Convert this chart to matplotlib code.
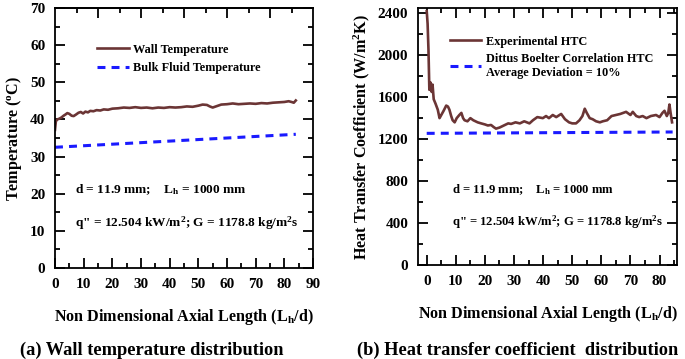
import matplotlib
matplotlib.use("Agg")
import matplotlib.pyplot as plt
from matplotlib.ticker import MultipleLocator, FixedLocator

plt.rcParams['font.family'] = ['Liberation Serif', 'DejaVu Serif']
plt.rcParams['font.weight'] = 'bold'
plt.rcParams['mathtext.fontset'] = 'custom'
plt.rcParams['mathtext.rm'] = 'Liberation Serif:bold'
plt.rcParams['mathtext.bf'] = 'Liberation Serif:bold'
plt.rcParams['mathtext.it'] = 'Liberation Serif:bold:italic'

# (a) wall / bulk temperature
wall_x = [0, 0.3, 0.8, 1.5, 2.2, 3.0, 3.6, 4.3, 5.0, 5.8,
          6.5, 7.3, 8.2, 9.0, 9.8, 10.6, 11.5, 12.3, 13.4, 14.5,
          15.8, 17.0, 18.5, 20, 22, 24, 26, 28, 30, 32,
          34, 36, 38, 40, 42, 44, 46, 48, 50, 51.5,
          53, 54, 55, 56.5, 58, 60, 62, 64, 66, 68,
          70, 72, 74, 76, 78, 80, 81.5, 82.5, 83.3, 84]
wall_t = [37.2, 39.5, 40.0, 40.2, 40.5, 41.0, 41.3, 41.7, 41.5, 41.0,
          40.9, 41.3, 41.8, 42.0, 41.6, 42.1, 41.9, 42.3, 42.2, 42.5,
          42.4, 42.7, 42.6, 42.9, 43.0, 43.2, 43.1, 43.3, 43.1, 43.2,
          43.0, 43.2, 43.1, 43.3, 43.2, 43.3, 43.5, 43.4, 43.7, 44.0,
          43.9, 43.5, 43.2, 43.6, 44.0, 44.1, 44.3, 44.1, 44.2, 44.3,
          44.2, 44.4, 44.3, 44.5, 44.6, 44.7, 44.9, 44.7, 44.5, 45.1]
bulk_x = [0, 84]
bulk_t = [32.5, 36.0]

# (b) heat transfer coefficient
htc_x = [0, 0.3, 0.6, 0.9, 1.3, 1.7, 2.0, 2.4, 3.0, 3.8,
         4.4, 5.0, 5.8, 6.7, 7.3, 7.8, 8.4, 8.9, 9.6, 10.3,
         11.2, 11.9, 12.5, 13.0, 14.0, 15.0, 16.0, 17.5, 18.7, 20.0,
         21.0, 22.1, 23.0, 23.8, 25.0, 26.5, 28.0, 29.0, 30.5, 32.0,
         33.5, 35.3, 36.5, 38.0, 39.9, 41.0, 42.0, 43.3, 44.5, 46.2,
         47.5, 48.9, 50.0, 51.3, 52.5, 53.5, 54.3, 55.0, 56.0, 57.0,
         58.2, 59.5, 60.5, 62.0, 63.5, 65.0, 66.5, 68.5, 70.0, 70.8,
         72.0, 73.0, 74.2, 75.5, 77.0, 78.8, 80.0, 81.0, 81.7, 82.5,
         83.0, 83.4, 83.8, 84.3]
htc_exp = [2420, 2300, 2050, 1670, 1740, 1650, 1720, 1580, 1540, 1480,
           1400, 1430, 1470, 1520, 1510, 1480, 1420, 1380, 1360, 1400,
           1430, 1450, 1400, 1380, 1370, 1400, 1380, 1360, 1350, 1340,
           1330, 1335, 1315, 1300, 1310, 1330, 1350, 1345, 1360, 1350,
           1370, 1350, 1380, 1410, 1400, 1420, 1400, 1430, 1410, 1440,
           1390, 1360, 1350, 1350, 1380, 1420, 1490, 1450, 1400, 1390,
           1370, 1360, 1370, 1380, 1420, 1430, 1440, 1460, 1430, 1460,
           1420, 1410, 1420, 1400, 1420, 1430, 1410, 1450, 1470, 1420,
           1450, 1530, 1450, 1360]
db_x = [0, 84.5]
db_htc = [1255, 1268]

brown = '#6b3535'
blue = '#1a1aff'

W, H = 685, 359
fig = plt.figure(figsize=(W / 100, H / 100), dpi=100)


def px_axes(l, t, r, b):
    return fig.add_axes([l / W, 1 - b / H, (r - l) / W, (b - t) / H])


def style(ax):
    for s in ax.spines.values():
        s.set_linewidth(1.3)
    ax.tick_params(which='both', direction='in', top=True, right=True,
                   width=1.3, labelsize=11, pad=7)
    ax.tick_params(which='major', length=7)
    ax.tick_params(which='minor', length=3.5)
    for lab in ax.get_xticklabels() + ax.get_yticklabels():
        lab.set_fontweight('bold')


note1 = r'd = 11.9 mm;    L$_{\mathrm{h}}$ = 1000 mm'
note2 = r'q" = 12.504 kW/m$^{\mathrm{2}}$; G = 1178.8 kg/m$^{\mathrm{2}}$s'
xlab = r'Non Dimensional Axial Length (L$_{\mathrm{h}}$/d)'

# ---- panel (a)
ax1 = px_axes(55, 8, 313, 268)
ax1.plot(wall_x, wall_t, color=brown, lw=1.9, label='Wall Temperature')
ax1.plot(bulk_x, bulk_t, color=blue, lw=2.2, dashes=(2.6, 2.0),
         label='Bulk Fluid Temperature')
ax1.set_xlim(0, 90)
ax1.set_ylim(0, 70)
ax1.xaxis.set_major_locator(MultipleLocator(10))
ax1.xaxis.set_minor_locator(MultipleLocator(5))
ax1.yaxis.set_major_locator(MultipleLocator(10))
ax1.yaxis.set_minor_locator(MultipleLocator(5))
style(ax1)
# top axis uses its own tick spacing
top1 = ax1.secondary_xaxis('top')
top1.xaxis.set_major_locator(FixedLocator([15, 30, 45, 60, 75]))
top1.xaxis.set_minor_locator(FixedLocator([7.5, 22.5, 37.5, 52.5, 67.5, 82.5]))
top1.tick_params(which='both', direction='in', labeltop=False, width=1.3)
top1.tick_params(which='major', length=7)
top1.tick_params(which='minor', length=3.5)
ax1.tick_params(axis='x', which='both', top=False)
top1.spines['top'].set_linewidth(1.3)
ax1.set_xlabel(xlab, fontsize=11.6, fontweight='bold', labelpad=12)
ax1.set_ylabel(r'Temperature ($^{\mathrm{o}}$C)', fontsize=11.6,
               fontweight='bold', labelpad=4)
ax1.legend(loc='upper left', bbox_to_anchor=(0.12, 0.905), frameon=False,
           handlelength=2.6, handletextpad=0.35, labelspacing=0.5,
           prop={'weight': 'bold', 'size': 8.8})
ax1.text(0.078, 0.30, note1, transform=ax1.transAxes, fontsize=9.6,
         fontweight='bold', va='center')
ax1.text(0.078, 0.173, note2, transform=ax1.transAxes, fontsize=9.6,
         fontweight='bold', va='center')

# ---- panel (b)
ax2 = px_axes(418, 8, 677, 265)
ax2.plot(htc_x, htc_exp, color=brown, lw=1.9, label='Experimental HTC')
ax2.plot(db_x, db_htc, color=blue, lw=2.2, dashes=(2.6, 2.0),
         label='Dittus Boelter Correlation HTC\nAverage Deviation = 10%')
ax2.set_xlim(-3, 86)
ax2.set_ylim(0, 2450)
ax2.xaxis.set_major_locator(FixedLocator(range(0, 90, 10)))
ax2.xaxis.set_minor_locator(FixedLocator(range(5, 90, 10)))
ax2.yaxis.set_major_locator(MultipleLocator(400))
ax2.yaxis.set_minor_locator(MultipleLocator(200))
style(ax2)
ax2.set_xlabel(xlab, fontsize=11.6, fontweight='bold', labelpad=12)
ax2.set_ylabel(r'Heat Transfer Coefficient (W/m$^{\mathrm{2}}$K)', fontsize=11.6,
               fontweight='bold', labelpad=4)
ax2.legend(loc='upper left', bbox_to_anchor=(0.08, 0.935), frameon=False,
           handlelength=2.6, handletextpad=0.35, labelspacing=0.45,
           prop={'weight': 'bold', 'size': 8.8})
ax2.text(0.131, 0.292, note1, transform=ax2.transAxes, fontsize=9.1,
         fontweight='bold', va='center')
ax2.text(0.131, 0.167, note2, transform=ax2.transAxes, fontsize=9.1,
         fontweight='bold', va='center')

fig.text(20 / W, 1 - 350 / H, '(a) Wall temperature distribution',
         fontsize=13.2, fontweight='bold', va='center', ha='left')
fig.text(357 / W, 1 - 350 / H, '(b) Heat transfer coefficient  distribution',
         fontsize=13.2, fontweight='bold', va='center', ha='left')

fig.savefig('out.png', dpi=100)
